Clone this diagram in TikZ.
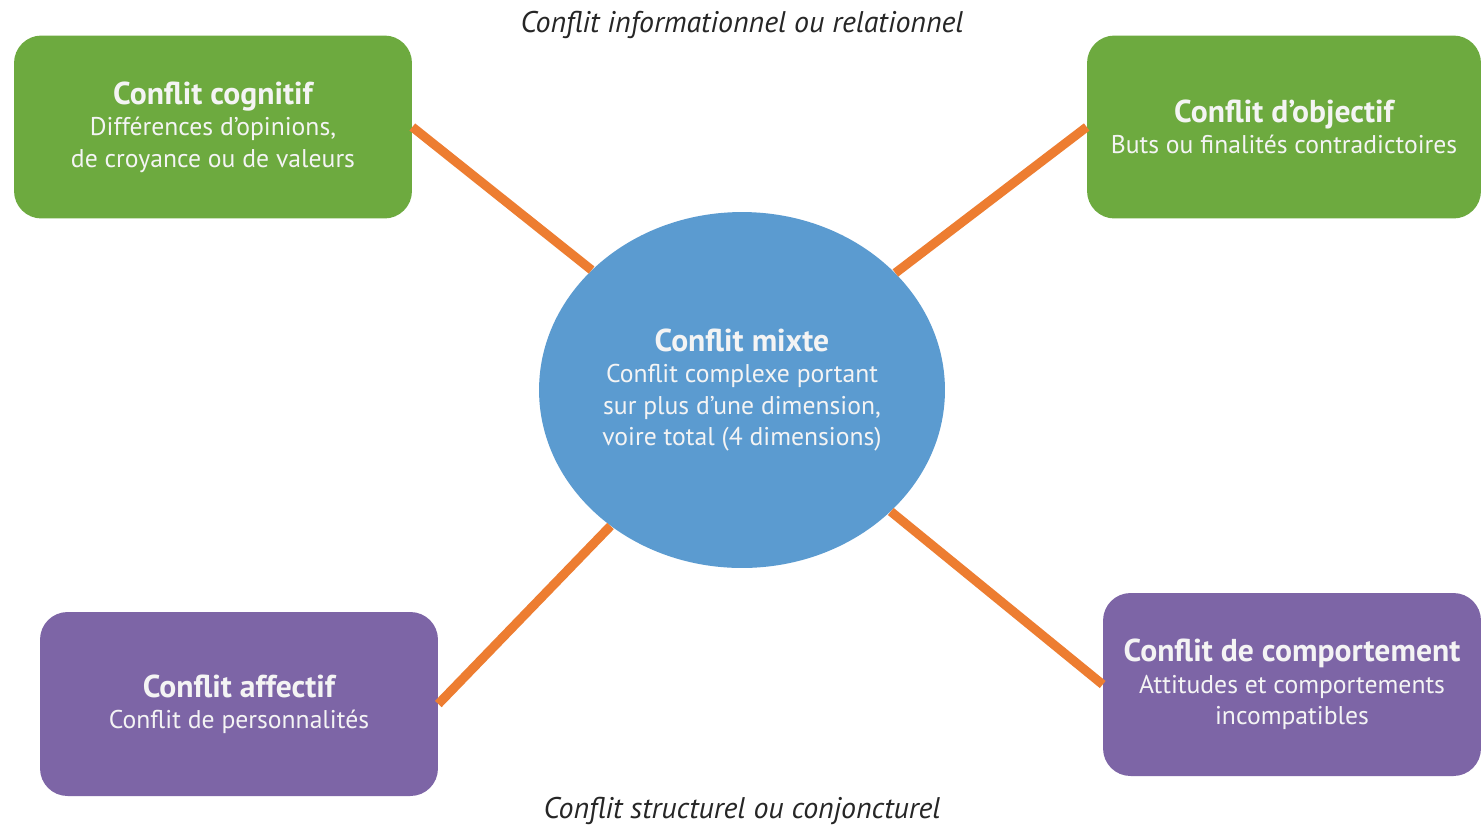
\documentclass[tikz,border=0pt]{standalone}
\usepackage{fontspec}
\setmainfont{PT Sans}
\usetikzlibrary{shapes.geometric}
\definecolor{boxgreen}{HTML}{6DAA3F}
\definecolor{boxpurple}{HTML}{7D65A6}
\definecolor{ellblue}{HTML}{5B9BD0}
\definecolor{linkorange}{HTML}{ED7D31}
\definecolor{txtwhite}{HTML}{F4F4F4}
\tikzset{
  px/.style={x=0.02cm,y=-0.02cm},
  catbox/.style={rectangle, rounded corners=0.55cm, inner sep=0pt, text=txtwhite, align=center,
    font=\fontsize{14.6}{17.9}\selectfont},
  greenbox/.style={catbox, fill=boxgreen},
  purplebox/.style={catbox, fill=boxpurple},
  centre/.style={ellipse, fill=ellblue, inner sep=0pt, minimum width=8.12cm, minimum height=7.12cm,
    text=txtwhite, align=center, font=\fontsize{14.6}{17.9}\selectfont},
  link/.style={draw=linkorange, line width=5.2pt},
  axis label/.style={font=\fontsize{17}{20}\selectfont\itshape, text=black!85}
}
\newcommand{\ttlfont}{\fontsize{18}{18.8}\selectfont\bfseries}
\begin{document}
\begin{tikzpicture}[px]
\useasboundingbox[fill=white] (0,0) rectangle (1483,826);
\node[centre] (mix) at (742,390) {{\ttlfont Conflit mixte}\\Conflit complexe portant\\sur plus d’une dimension,\\voire total (4 dimensions)};
\node[greenbox, minimum width=7.96cm, minimum height=3.66cm] (cog) at (213,127)
  {{\ttlfont Conflit cognitif}\\Différences d’opinions,\\de croyance ou de valeurs};
\node[greenbox, minimum width=7.88cm, minimum height=3.66cm] (obj) at (1284,127)
  {{\ttlfont Conflit d’objectif}\\Buts ou finalités contradictoires};
\node[purplebox, minimum width=7.96cm, minimum height=3.68cm] (aff) at (239,704)
  {{\ttlfont Conflit affectif}\\Conflit de personnalités};
\node[purplebox, minimum width=7.56cm, minimum height=3.66cm] (comp) at (1292,684.5)
  {{\ttlfont Conflit de comportement}\\Attitudes et comportements\\incompatibles};
\draw[link] (mix) -- (cog.east);
\draw[link] (mix) -- (obj.west);
\draw[link] (mix) -- (aff.east);
\draw[link] (mix) -- (comp.west);
\node[axis label] (top) at (742,25) {Conflit informationnel ou relationnel};
\node[axis label] (bot) at (742,811) {Conflit structurel ou conjoncturel};
\end{tikzpicture}
\end{document}
